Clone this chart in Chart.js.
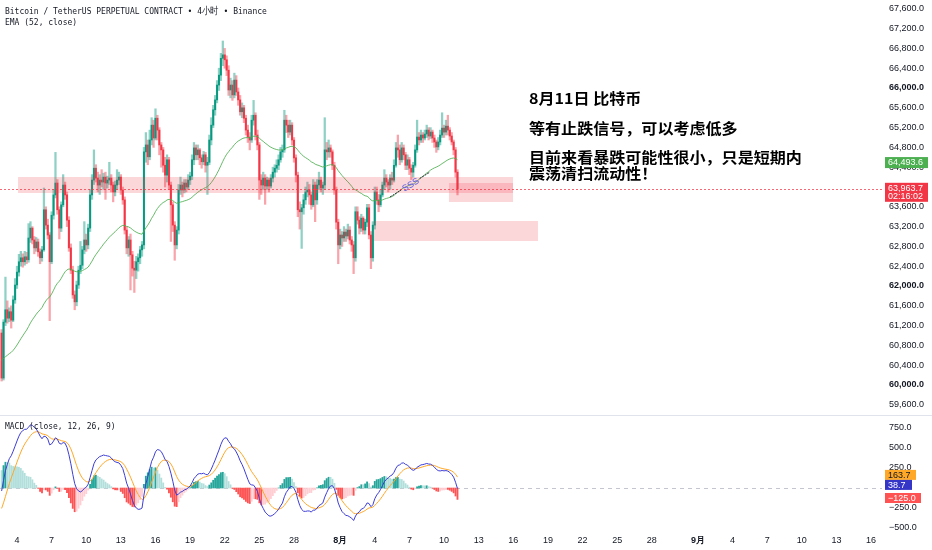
<!DOCTYPE html>
<html lang="zh">
<head>
<meta charset="utf-8">
<title>BTCUSDT.P 4小时</title>
<script src="https://cdn.jsdelivr.net/npm/chart.js@4.4.1/dist/chart.umd.min.js"></script>
<style>
  html, body { margin: 0; padding: 0; background: #fff; }
  #wrap { position: relative; width: 932px; height: 550px; overflow: hidden; }
  #pricePane { position: absolute; left: 0; top: 0; width: 932px; height: 415px; }
  #macdPane { position: absolute; left: 0; top: 416px; width: 932px; height: 134px; }
  .sep { position: absolute; left: 0; top: 415px; width: 932px; height: 1px; background: #e0e3eb; }
  .legend {
    position: absolute; left: 5px; white-space: nowrap; color: #131722;
    font-family: "DejaVu Sans Mono", monospace; font-size: 9.5px; line-height: 10px;
    transform: scaleX(0.84); transform-origin: 0 0;
  }
  .note {
    position: absolute; left: 529px; white-space: nowrap; color: #000;
    font-family: "Noto Sans CJK SC", sans-serif; font-weight: 700; font-size: 15px; line-height: 15px;
    transform: scaleX(1.07); transform-origin: 0 0;
  }
</style>
</head>
<body>
<div id="wrap">
  <div id="pricePane"><canvas id="priceChart"></canvas></div>
  <div class="sep"></div>
  <div id="macdPane"><canvas id="macdChart"></canvas></div>

  <div class="legend" style="top:6px">Bitcoin / TetherUS PERPETUAL CONTRACT • 4小时 • Binance</div>
  <div class="legend" style="top:17px">EMA (52, close)</div>
  <div class="legend" style="top:421px">MACD (close, 12, 26, 9)</div>

  <div class="note" style="top:90px">8月11日 比特币</div>
  <div class="note" style="top:119.5px">等有止跌信号，可以考虑低多</div>
  <div class="note" style="top:149.4px">目前来看暴跌可能性很小，只是短期内</div>
  <div class="note" style="top:165px">震荡清扫流动性！</div>
</div>

<script>
// -------------------------------------------------------
// 数据：4小时K线（7月2日 16:00 起，每根 4 小时）
// -------------------------------------------------------
const CANDLE_START = 2 + 16 / 24;   // 日序号（7月=日，8月=31+日）
const CANDLE_STEP = 4 / 24;
const FIRST_OPEN = 61050;

const closes = [
  60140, 61270, 61520, 61350, 61480, 61310, 61720, 62020, 62280, 62490,
  62570, 62490, 62590, 62530, 62970, 63170, 62930, 62770, 62890, 62690,
  62570, 62730, 63540, 63230, 63030, 62490, 63430, 63840, 64080, 63540,
  63170, 63640, 64040, 63840, 63330, 62770, 62320, 61820, 61680, 62020,
  62320, 62420, 62730, 62930, 62830, 63170, 63840, 64140, 64380, 64180,
  64040, 64140, 64100, 64200, 64080, 64140, 64180, 64040, 63900, 64040,
  64140, 64200, 63940, 63740, 63130, 62770, 62930, 62630, 62360, 62320,
  62490, 62570, 62730, 62830, 64710, 64850, 64610, 64950, 65250, 64990,
  65390, 65150, 64850, 64750, 64440, 64240, 64550, 64040, 63640, 63230,
  62830, 63130, 63940, 64040, 63940, 64080, 64000, 64140, 64220, 64550,
  64790, 64650, 64750, 64590, 64510, 64650, 64440, 64500, 64950, 65250,
  65560, 65760, 66060, 66260, 66600, 66670, 66570, 66360, 65960, 66060,
  65860, 66160, 65920, 65760, 65520, 65600, 65390, 65150, 65010, 64950,
  65350, 65450, 65050, 64850, 64140, 64040, 64180, 64020, 64140, 64020,
  64180, 64300, 64380, 64440, 64550, 64710, 64750, 65350, 65250, 65110,
  65250, 64950, 64590, 64240, 63540, 63500, 63580, 63740, 63900, 63940,
  63840, 63640, 64040, 63740, 64040, 64140, 63980, 64040, 64750, 64710,
  64790, 64710, 64440, 63940, 63290, 62830, 63030, 62970, 63090, 63010,
  63130, 62930, 62830, 62570, 63500, 63330, 63170, 63370, 63130, 63290,
  63580, 63030, 62570, 63230, 63900, 63740, 63640, 63840, 64040, 64180,
  64100, 64040, 64180, 64140, 64440, 64790, 64750, 64550, 64790, 64650,
  64440, 64550, 64380, 64300, 64440, 64750, 65010, 64950, 65050, 64990,
  65070, 65150, 65030, 65110, 64990, 64910, 64810, 64910, 65050, 65190,
  65110, 65230, 65150, 65030, 64910, 64750, 64300, 63963.7
];

const highs = [
  61120, 61320, 62180, 61700, 61560, 61600, 61800, 62150, 62400, 62640,
  62700, 62650, 62700, 62680, 63260, 63300, 63200, 63000, 62980, 62950,
  62750, 62800, 63980, 63600, 63350, 63080, 63500, 63950, 64700, 64150,
  63600, 63700, 64250, 64100, 63900, 63400, 62850, 62400, 61900, 62100,
  62400, 62900, 62800, 63300, 63050, 63250, 63950, 64250, 64750, 64450,
  64300, 64250, 64350, 64280, 64300, 64220, 64500, 64250, 64100, 64120,
  64350, 64300, 64250, 64000, 63800, 63200, 63000, 63050, 62700, 62500,
  62600, 62650, 62800, 62900, 64800, 65100, 64950, 65150, 65400, 65350,
  65580, 65450, 65200, 64900, 64800, 64600, 64650, 64600, 64100, 63700,
  63300, 63200, 64050, 64200, 64100, 64150, 64150, 64250, 64300, 64650,
  64900, 64850, 64850, 64780, 64650, 64720, 64700, 64600, 65050, 65400,
  65650, 65850, 66150, 66400, 66700, 66950, 66800, 66650, 66450, 66200,
  66150, 66300, 66250, 66000, 65850, 65700, 65650, 65450, 65250, 65100,
  65450, 65750, 65500, 65150, 64900, 64250, 64300, 64250, 64200, 64180,
  64250, 64400, 64450, 64550, 64650, 64800, 64850, 65550, 65450, 65350,
  65350, 65300, 65000, 64650, 64300, 63700, 63650, 63850, 64000, 64100,
  64050, 63900, 64150, 64100, 64150, 64300, 64200, 64100, 65400, 64900,
  64950, 64850, 64750, 64500, 64000, 63350, 63150, 63100, 63200, 63150,
  63250, 63200, 63000, 62900, 63600, 63600, 63400, 63450, 63400, 63350,
  63650, 63650, 63100, 63300, 64000, 64000, 63850, 63950, 64100, 64350,
  64250, 64150, 64250, 64300, 64550, 64900, 65050, 64850, 64900, 64850,
  64700, 64650, 64600, 64450, 64500, 64850, 65350, 65100, 65150, 65100,
  65150, 65250, 65200, 65200, 65150, 65050, 64950, 65000, 65150, 65500,
  65250, 65350, 65450, 65200, 65100, 64950, 64800, 64350
];

const lows = [
  60080, 60100, 61200, 61250, 61280, 61150, 61280, 61650, 61950, 62200,
  62400, 62380, 62420, 62450, 62480, 62880, 62850, 62650, 62700, 62600,
  62450, 62500, 62700, 63150, 62950, 61300, 62450, 63350, 63780, 63450,
  62950, 63100, 63600, 63750, 63200, 62700, 62250, 61750, 61520, 61600,
  61950, 62250, 62350, 62650, 62700, 62750, 63100, 63750, 64050, 64100,
  63900, 63850, 64000, 63950, 63750, 63980, 64050, 63900, 63700, 63820,
  63950, 64050, 63850, 63650, 63050, 62650, 62600, 61920, 62200, 61870,
  62150, 62300, 62450, 62600, 62750, 64500, 64450, 64550, 64850, 64800,
  64950, 64950, 64650, 64400, 64300, 64000, 64100, 63950, 62900, 63100,
  62520, 62750, 63050, 63850, 63800, 63880, 63900, 63950, 64050, 64150,
  64450, 64550, 64550, 64450, 64380, 64450, 64300, 63850, 64450, 64850,
  65200, 65450, 65700, 65950, 66150, 66450, 66400, 66250, 65850, 65800,
  65750, 65800, 65850, 65650, 65450, 65400, 65300, 65050, 64900, 64750,
  64900, 65250, 64950, 64750, 63750, 63850, 63950, 63650, 63950, 63900,
  63980, 64100, 64200, 64300, 64350, 64500, 64600, 64700, 65100, 65000,
  65050, 64850, 64500, 64100, 63400, 63150, 62760, 63450, 63650, 63800,
  63650, 63550, 63600, 63300, 63650, 63950, 63900, 63850, 63950, 64550,
  64600, 64600, 64350, 63850, 63150, 62450, 62750, 62800, 62900, 62900,
  62950, 62850, 62700, 62250, 62500, 63250, 63050, 63100, 63050, 63050,
  63200, 62950, 62350, 62500, 63150, 63650, 63500, 63600, 63800, 63950,
  64000, 63900, 63950, 64050, 64100, 64400, 64600, 64450, 64500, 64550,
  64350, 64350, 64250, 64150, 64200, 64400, 64700, 64850, 64900, 64900,
  64950, 65000, 64950, 64980, 64900, 64800, 64700, 64750, 64850, 65000,
  65000, 65050, 65050, 64950, 64850, 64650, 64200, 63840
];

// 开盘价 = 上一根收盘价
const opens = closes.map((c, i) => (i === 0 ? FIRST_OPEN : closes[i - 1]));
const times = closes.map((_, i) => CANDLE_START + i * CANDLE_STEP);

// 指标起始值（图中最左端读数）
const EMA52_SEED = 60520;
const EMA12_SEED = 59560;
const EMA26_SEED = 59650;
const SIGNAL_SEED = -310;

// 刻度
const priceTicks = [59600, 60000, 60400, 60800, 61200, 61600, 62000, 62400, 62800, 63200, 63600,
  64000, 64400, 64800, 65200, 65600, 66000, 66400, 66800, 67200, 67600];
const macdTicks = [-500, -250, 0, 250, 500, 750];
const dateTicks = [4, 7, 10, 13, 16, 19, 22, 25, 28, 32, 35, 38, 41, 44, 47, 50, 53, 56, 59, 63, 66, 69, 72, 75, 78];
const dateLabels = ["4", "7", "10", "13", "16", "19", "22", "25", "28", "8月", "4", "7", "10", "13", "16",
  "19", "22", "25", "28", "9月", "4", "7", "10", "13", "16"];

// 右侧价格标签（图上显示值）
const emaTag = { value: 64493.6, text: "64,493.6" };
const lastTag = { value: 63963.7, text: "63,963.7", timer: "02:16:02" };
const macdTags = [
  { value: 163.7, text: "163.7", bg: "#ffa726", fg: "#131722", w: 31 },
  { value: 38.7, text: "38.7", bg: "#3535c8", fg: "#ffffff", w: 27 },
  { value: -125.0, text: "\u2212125.0", bg: "#ff5252", fg: "#ffffff", w: 36 },
];

// 画线工具（时间=日序号, 价格）
const zones = [
  [4.09, 46.98, 63879, 64202],
  [41.43, 46.98, 63697, 64081],
  [34.93, 49.14, 62909, 63313],
];
const sssLine = [[36.32, 63798], [39.79, 64303]];

// 视窗范围
const X_MIN = 2.527, X_MAX = 78.95;
const PRICE_MIN = 59394, PRICE_MAX = 67778;
const MACD_MIN = -550, MACD_MAX = 900;

// -------------------------------------------------------
// 指标计算
// -------------------------------------------------------
function ema(values, n, seed) {
  const k = 2 / (n + 1);
  let e = seed;
  return values.map((v) => (e = v * k + e * (1 - k)));
}
const ema52 = ema(closes, 52, EMA52_SEED);
const ema12 = ema(closes, 12, EMA12_SEED);
const ema26 = ema(closes, 26, EMA26_SEED);
const macd = ema12.map((v, i) => v - ema26[i]);
const signal = ema(macd, 9, SIGNAL_SEED);
const hist = macd.map((v, i) => v - signal[i]);

// -------------------------------------------------------
// 样式
// -------------------------------------------------------
const UP = "#089981", DOWN = "#f23645";
const UP_WICK = "rgba(8,153,129,0.45)", DOWN_WICK = "rgba(242,54,69,0.45)";
const AXIS_TEXT = "#131722";
const FONT = "'Liberation Sans', Arial, sans-serif";

const fmtPrice = (v) => v.toLocaleString("en-US", { minimumFractionDigits: 1, maximumFractionDigits: 1 });
const fmtMacd = (v) => (v < 0 ? "\u2212" : "") + Math.abs(v).toFixed(1);

// 轴不留标签半高的内边距，图区铺满画布
const noPad = (s) => { s.paddingTop = 0; s.paddingBottom = 0; s.paddingLeft = 0; s.paddingRight = 0; };

function drawTag(ctx, x, top, h, w, bg, lines, fg) {
  ctx.fillStyle = bg;
  ctx.fillRect(x, top, w, h);
  ctx.fillStyle = fg;
  ctx.font = "9px " + FONT;
  ctx.textAlign = "left";
  ctx.textBaseline = "middle";
  lines.forEach((t, k) => ctx.fillText(t, x + 3, top + 5.5 + k * 8.5));
}

// -------------------------------------------------------
// 价格主图
// -------------------------------------------------------
const pricePlugin = {
  id: "priceDrawings",
  afterDatasetsDraw(chart) {
    const { ctx, chartArea: a, scales: { x, y } } = chart;
    ctx.save();
    ctx.beginPath();
    ctx.rect(a.left, a.top, a.right - a.left, a.bottom - a.top);
    ctx.clip();

    // 区域
    ctx.fillStyle = "rgba(242,54,69,0.2)";
    zones.forEach(([t0, t1, p0, p1]) => {
      const x0 = x.getPixelForValue(t0), x1 = x.getPixelForValue(t1);
      const y0 = y.getPixelForValue(p1), y1 = y.getPixelForValue(p0);
      ctx.fillRect(x0, y0, x1 - x0, y1 - y0);
    });

    // 最新价虚线
    const py = y.getPixelForValue(lastTag.value);
    ctx.strokeStyle = "rgba(242,54,69,0.75)";
    ctx.lineWidth = 1;
    ctx.setLineDash([2, 2]);
    ctx.beginPath();
    ctx.moveTo(a.left, Math.round(py) + 0.5);
    ctx.lineTo(a.right, Math.round(py) + 0.5);
    ctx.stroke();
    ctx.setLineDash([]);

    // sss 趋势线
    const ax = x.getPixelForValue(sssLine[0][0]), ay = y.getPixelForValue(sssLine[0][1]);
    const bx = x.getPixelForValue(sssLine[1][0]), by = y.getPixelForValue(sssLine[1][1]);
    const lerp = (t) => [ax + (bx - ax) * t, ay + (by - ay) * t];
    ctx.strokeStyle = "#2a2e39";
    ctx.lineWidth = 1;
    ctx.setLineDash([2, 1]);
    [[0, 0.28], [0.74, 1]].forEach(([t0, t1]) => {
      const p = lerp(t0), q = lerp(t1);
      ctx.beginPath();
      ctx.moveTo(p[0], p[1]);
      ctx.lineTo(q[0], q[1]);
      ctx.stroke();
    });
    ctx.setLineDash([]);
    const mid = lerp(0.51);
    ctx.translate(mid[0], mid[1]);
    ctx.rotate(Math.atan2(by - ay, bx - ax));
    ctx.fillStyle = "#6b6bdc";
    ctx.font = "12px " + FONT;
    ctx.textAlign = "center";
    ctx.textBaseline = "middle";
    ctx.fillText("sss", 0, 0);
    ctx.restore();
  },
  afterDraw(chart) {
    const { ctx, chartArea: a, scales: { y } } = chart;
    ctx.save();
    const ey = y.getPixelForValue(emaTag.value);
    drawTag(ctx, a.right + 3, ey - 5.5, 11, 43, "#4caf50", [emaTag.text], "#ffffff");
    const ly = y.getPixelForValue(lastTag.value);
    drawTag(ctx, a.right + 3, ly - 6, 19, 43, DOWN, [lastTag.text, lastTag.timer], "#ffffff");
    ctx.restore();
  },
};

new Chart(document.getElementById("priceChart"), {
  type: "bar",
  data: {
    datasets: [
      {
        type: "line",
        label: "EMA 52",
        data: times.map((t, i) => ({ x: t, y: ema52[i] })),
        borderColor: "rgba(76,175,80,0.85)",
        borderWidth: 1,
        pointRadius: 0,
        tension: 0,
        order: 0,
      },
      {
        label: "实体",
        data: times.map((t, i) => ({ x: t, y: [opens[i], closes[i]] })),
        backgroundColor: (c) => (closes[c.dataIndex] >= opens[c.dataIndex] ? UP : DOWN),
        barThickness: 1.3,
        minBarLength: 1,
        grouped: false,
        order: 1,
      },
      {
        label: "影线",
        data: times.map((t, i) => ({ x: t, y: [lows[i], highs[i]] })),
        backgroundColor: (c) => (closes[c.dataIndex] >= opens[c.dataIndex] ? UP_WICK : DOWN_WICK),
        barThickness: 1.6,
        grouped: false,
        order: 2,
      },
    ],
  },
  options: {
    responsive: true,
    maintainAspectRatio: false,
    animation: false,
    events: [],
    layout: { padding: 0 },
    plugins: { legend: { display: false }, tooltip: { enabled: false } },
    scales: {
      x: { type: "linear", display: false, min: X_MIN, max: X_MAX, offset: false },
      y: {
        position: "right",
        min: PRICE_MIN,
        max: PRICE_MAX,
        grid: { display: false, drawTicks: false },
        border: { display: false },
        afterBuildTicks: (s) => { s.ticks = priceTicks.map((v) => ({ value: v })); },
        afterFit: (s) => { s.width = 50; noPad(s); },
        ticks: {
          padding: 7,
          color: AXIS_TEXT,
          callback: (v) => fmtPrice(v),
          font: (c) => ({ family: FONT, size: 9, weight: c.tick && c.tick.value % 2000 === 0 ? "bold" : "normal" }),
        },
      },
    },
  },
  plugins: [pricePlugin],
});

// -------------------------------------------------------
// MACD 副图
// -------------------------------------------------------
const histColor = (i) => {
  const h = hist[i], prev = i > 0 ? hist[i - 1] : h;
  if (h >= 0) return prev < h ? "#26a69a" : "#b2dfdb";
  return prev < h ? "#ffcdd2" : "#ff5252";
};

const macdPlugin = {
  id: "macdDrawings",
  beforeDatasetsDraw(chart) {
    const { ctx, chartArea: a, scales: { y } } = chart;
    const zy = Math.round(y.getPixelForValue(0)) + 0.5;
    ctx.save();
    ctx.strokeStyle = "#c3c6ce";
    ctx.lineWidth = 1;
    ctx.setLineDash([4, 4]);
    ctx.beginPath();
    ctx.moveTo(a.left, zy);
    ctx.lineTo(a.right, zy);
    ctx.stroke();
    ctx.restore();
  },
  afterDraw(chart) {
    const { ctx, chartArea: a, scales: { y } } = chart;
    ctx.save();
    macdTags.forEach((t) => {
      const ty = y.getPixelForValue(t.value);
      drawTag(ctx, a.right + 3, ty - 5, 10, t.w, t.bg, [t.text], t.fg);
    });
    ctx.restore();
  },
};

new Chart(document.getElementById("macdChart"), {
  type: "bar",
  data: {
    datasets: [
      {
        type: "line",
        label: "MACD",
        data: times.map((t, i) => ({ x: t, y: macd[i] })),
        borderColor: "#3d3dd6",
        borderWidth: 1,
        pointRadius: 0,
        order: 0,
      },
      {
        type: "line",
        label: "Signal",
        data: times.map((t, i) => ({ x: t, y: signal[i] })),
        borderColor: "#ffa726",
        borderWidth: 1,
        pointRadius: 0,
        order: 1,
      },
      {
        label: "Histogram",
        data: times.map((t, i) => ({ x: t, y: hist[i] })),
        backgroundColor: (c) => histColor(c.dataIndex),
        barThickness: 1.2,
        grouped: false,
        order: 2,
      },
    ],
  },
  options: {
    responsive: true,
    maintainAspectRatio: false,
    animation: false,
    events: [],
    layout: { padding: 0 },
    plugins: { legend: { display: false }, tooltip: { enabled: false } },
    scales: {
      x: {
        type: "linear",
        min: X_MIN,
        max: X_MAX,
        offset: false,
        grid: { display: false, drawTicks: false },
        border: { display: false },
        afterBuildTicks: (s) => { s.ticks = dateTicks.map((v) => ({ value: v })); },
        afterFit: (s) => { s.height = 18; noPad(s); },
        ticks: {
          autoSkip: false,
          maxRotation: 0,
          padding: 3,
          color: AXIS_TEXT,
          callback: (v) => dateLabels[dateTicks.indexOf(v)] || "",
          font: (c) => ({
            family: FONT, size: 9,
            weight: c.tick && /月/.test(dateLabels[dateTicks.indexOf(c.tick.value)] || "") ? "bold" : "normal",
          }),
        },
      },
      y: {
        position: "right",
        min: MACD_MIN,
        max: MACD_MAX,
        grid: { display: false, drawTicks: false },
        border: { display: false },
        afterBuildTicks: (s) => { s.ticks = macdTicks.map((v) => ({ value: v })); },
        afterFit: (s) => { s.width = 50; noPad(s); },
        ticks: { padding: 7, color: AXIS_TEXT, font: { family: FONT, size: 9 }, callback: (v) => fmtMacd(v) },
      },
    },
  },
  plugins: [macdPlugin],
});
</script>
</body>
</html>
